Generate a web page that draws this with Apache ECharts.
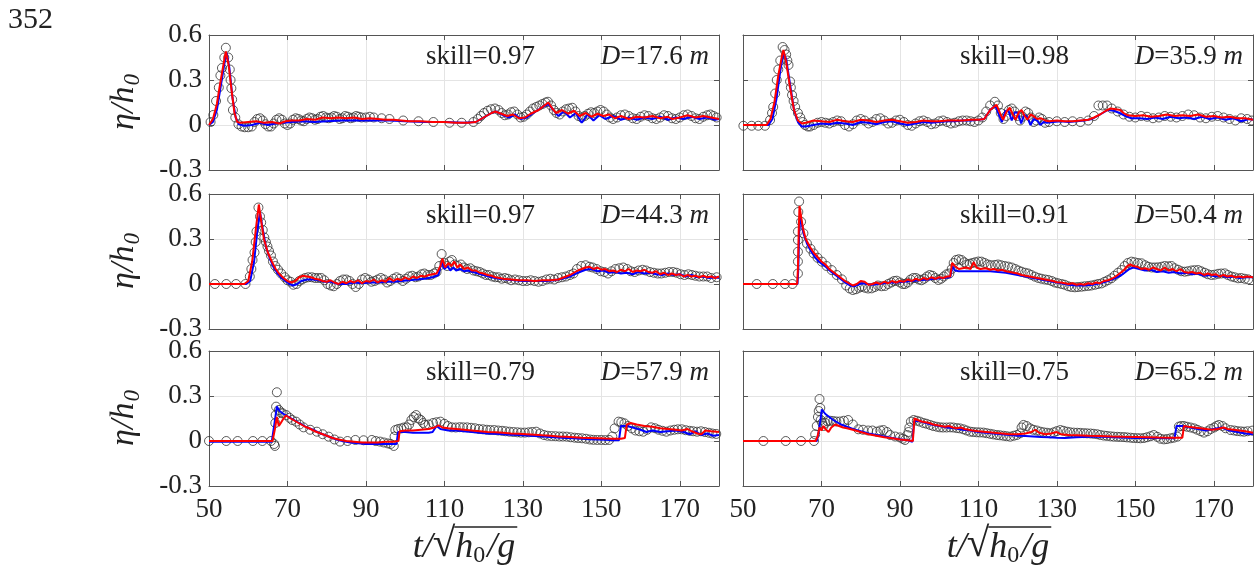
<!DOCTYPE html>
<html>
<head>
<meta charset="utf-8">
<script src="https://cdn.jsdelivr.net/npm/echarts@6/dist/echarts.min.js"></script>
<style>
html,body{margin:0;padding:0;background:#fff;}
#c{width:1254px;height:571px;}
</style>
</head>
<body>
<div id="c"></div>
<script>
// ---------------- DATA ----------------
const xTicks = [50, 70, 90, 110, 130, 150, 170];
const yTicks = [-0.3, 0, 0.3, 0.6];
const skills = ['0.97', '0.98', '0.97', '0.91', '0.79', '0.75'];
const depths = ['17.6', '35.9', '44.3', '50.4', '57.9', '65.2'];
const figNumber = '352';

// Panel 1: D=17.6 m
const obs1 = [[50.4,0.02],[51.1,0.067],[51.8,0.16],[52.5,0.25],[52.9,0.33],[53.3,0.38],[53.9,0.45],[54.3,0.515],[54.9,0.45],[55.3,0.37],[55.5,0.3],[55.7,0.245],[55.9,0.17],[56.1,0.1],[56.7,0.05],[57.5,0.005],[58.3,-0.01],[59.1,-0.015],[60,-0.015],[60.9,-0.01],[61.6,0.02],[62.3,0.04],[63,0.045],[63.7,0.03],[64.4,0.005],[65.1,-0.01],[65.8,-0.01],[66.5,0.01],[67.2,0.035],[67.9,0.045],[68.6,0.035],[69.3,0.01],[70,0.0],[70.7,0.01],[71.4,0.035],[72.1,0.045],[72.8,0.04],[73.5,0.03],[74.2,0.025],[74.9,0.04],[75.6,0.05],[76.3,0.045],[77,0.035],[77.7,0.04],[78.4,0.055],[79.1,0.06],[79.8,0.05],[80.5,0.045],[81.2,0.05],[81.9,0.06],[82.6,0.055],[83.3,0.04],[84,0.045],[84.7,0.06],[85.4,0.055],[86.1,0.045],[86.8,0.05],[87.5,0.06],[88.2,0.055],[88.9,0.05],[90,0.05],[91,0.055],[92,0.05],[94,0.045],[96,0.04],[99.5,0.03],[103.4,0.025],[107.2,0.02],[111.3,0.015],[114.4,0.015],[117.4,0.02],[118.5,0.04],[119.3,0.06],[120.1,0.08],[121,0.095],[121.9,0.105],[122.9,0.11],[123.8,0.1],[124.6,0.08],[125.4,0.065],[126.2,0.07],[127,0.085],[127.8,0.09],[128.6,0.07],[129.4,0.05],[130.2,0.055],[131,0.07],[131.8,0.09],[132.6,0.11],[133.4,0.12],[134.2,0.13],[135,0.14],[135.8,0.15],[136.4,0.155],[137.2,0.13],[137.9,0.1],[138.6,0.08],[139.4,0.07],[140.2,0.09],[141,0.105],[141.8,0.11],[142.6,0.115],[143.4,0.09],[144.2,0.06],[145,0.05],[145.8,0.06],[146.6,0.075],[147.4,0.085],[148.2,0.08],[149,0.09],[149.8,0.1],[150.6,0.09],[151.4,0.07],[152.2,0.05],[153,0.04],[154,0.05],[155,0.065],[156,0.07],[157,0.06],[158,0.045],[159,0.04],[160,0.055],[161,0.065],[162,0.06],[163,0.045],[164,0.04],[165,0.05],[166,0.065],[167,0.06],[168,0.045],[169,0.04],[170,0.05],[171,0.065],[172,0.07],[173,0.06],[174,0.045],[175,0.04],[176,0.055],[177,0.065],[177.8,0.07],[178.6,0.06],[179.4,0.05]];
const blue1 = [[50,0.0],[51,0.02],[52,0.1],[53,0.26],[54,0.42],[54.5,0.48],[55.2,0.38],[56,0.18],[56.8,0.05],[57.6,0.005],[59,-0.005],[61,0.0],[63,0.015],[65,0.0],[67,0.01],[69,0.015],[71,0.02],[74,0.025],[77,0.02],[80,0.025],[84,0.03],[88,0.03],[92,0.03],[96,0.03],[100,0.025],[105,0.02],[110,0.02],[115,0.015],[118,0.02],[120,0.05],[122,0.08],[123.2,0.09],[125,0.065],[126.5,0.05],[128,0.07],[129.5,0.04],[131,0.05],[133,0.085],[135,0.12],[136.5,0.14],[137.8,0.1],[139,0.06],[140.5,0.09],[142,0.05],[143.5,0.08],[145,0.015],[146.5,0.07],[148,0.03],[149.5,0.065],[151,0.04],[153,0.06],[155,0.035],[157,0.05],[159,0.035],[161,0.05],[163,0.04],[165,0.055],[167,0.035],[169,0.05],[171,0.04],[173,0.055],[175,0.04],[177,0.05],[179,0.035],[180,0.04]];
const red1 = [[50,0.0],[51,0.04],[52,0.14],[53,0.3],[54,0.45],[54.3,0.49],[55,0.4],[55.8,0.22],[56.5,0.08],[57.2,0.02],[58,0.015],[60,0.02],[62,0.025],[64,0.015],[66,0.02],[68,0.01],[69.5,0.025],[71,0.03],[73,0.03],[75,0.04],[77,0.035],[79,0.05],[81,0.045],[83,0.05],[85,0.045],[87,0.05],[89,0.04],[91,0.045],[93,0.04],[95,0.035],[97,0.035],[99,0.03],[101,0.025],[104,0.025],[107,0.02],[110,0.02],[113,0.015],[116,0.015],[118,0.02],[120,0.05],[122,0.08],[123,0.09],[124.5,0.075],[126,0.06],[127.5,0.07],[129,0.045],[130.5,0.05],[132,0.075],[134,0.1],[135.5,0.13],[136.5,0.15],[137.5,0.11],[138.5,0.08],[140,0.1],[141.5,0.075],[143,0.095],[144.5,0.06],[146,0.08],[147.5,0.055],[149,0.075],[150.5,0.06],[152,0.07],[153.5,0.045],[155,0.06],[157,0.04],[159,0.055],[161,0.05],[163,0.06],[165,0.045],[167,0.055],[168,0.04],[170,0.05],[172,0.065],[174,0.05],[176,0.06],[178,0.05],[180,0.04]];

// Panel 2: D=35.9 m
const obs2 = [[50.1,-0.005],[52.2,-0.005],[53.9,-0.005],[55.6,-0.005],[56.9,0.033],[57.4,0.08],[57.7,0.12],[58.2,0.21],[58.6,0.3],[59,0.37],[59.5,0.43],[60.1,0.52],[60.6,0.5],[61,0.47],[61.3,0.43],[61.6,0.4],[62,0.29],[62.2,0.25],[62.5,0.2],[62.9,0.16],[63.3,0.12],[64,0.08],[64.6,0.05],[65.2,0.02],[65.8,0.0],[66.5,-0.01],[67.1,-0.01],[68,0.0],[69,0.015],[70,0.02],[71,0.015],[72,0.01],[73,0.02],[74,0.03],[75,0.025],[76,0.0],[77,-0.01],[78,0.005],[79,0.03],[80,0.04],[81,0.03],[82,0.01],[83,0.02],[84,0.04],[85,0.045],[86,0.03],[87,0.01],[88,0.015],[89,0.03],[90,0.035],[91,0.02],[92,0.0],[93,-0.005],[94,0.01],[95,0.025],[96,0.03],[97,0.02],[98,0.005],[99,0.01],[100,0.025],[101,0.03],[102,0.02],[103,0.01],[104,0.015],[105,0.025],[106,0.03],[107,0.03],[108,0.025],[109,0.02],[110,0.03],[111,0.05],[112,0.09],[113,0.13],[114.2,0.155],[115,0.13],[115.7,0.08],[116.4,0.04],[117.1,0.06],[117.8,0.1],[118.5,0.11],[119.2,0.09],[119.9,0.06],[120.6,0.03],[121.3,0.055],[122,0.09],[122.7,0.08],[123.4,0.05],[124.1,0.02],[124.8,0.03],[125.5,0.05],[126.2,0.04],[127,0.015],[128,0.02],[130,0.025],[132,0.02],[134,0.025],[136,0.02],[138,0.03],[139.5,0.06],[140.6,0.13],[141.7,0.13],[142.8,0.13],[144,0.11],[145.5,0.09],[147,0.07],[148.5,0.055],[150,0.05],[151.5,0.06],[153,0.055],[154.5,0.045],[156,0.05],[157.5,0.06],[159,0.055],[160.5,0.05],[162,0.06],[163.5,0.07],[165,0.065],[166.5,0.05],[168,0.045],[169.5,0.055],[171,0.06],[172.5,0.05],[174,0.04],[175.5,0.03],[177,0.045],[178.5,0.04],[179.7,0.03]];
const blue2 = [[50,0],[56.5,0.0],[57.5,0.04],[58.5,0.17],[59.5,0.36],[60.3,0.48],[61,0.44],[62,0.27],[63,0.1],[64,0.02],[65,-0.01],[66,-0.01],[68,0.0],[70,0.01],[72,0.005],[74,0.015],[76,0.01],[78,0.0],[80,0.02],[82,0.015],[84,0.005],[86,0.02],[88,0.025],[90,0.01],[92,0.0],[94,0.01],[96,0.02],[98,0.015],[100,0.02],[102,0.025],[104,0.025],[106,0.03],[108,0.03],[110,0.035],[111.5,0.04],[113,0.1],[114.3,0.13],[115.2,0.07],[116,0.02],[116.8,0.09],[117.6,0.1],[118.5,0.03],[119.3,0.085],[120.1,0.08],[120.9,0.01],[121.7,0.07],[122.5,0.05],[123.3,0.0],[124.1,0.04],[125,0.03],[125.8,0.0],[126.6,0.02],[127.5,0.015],[129,0.02],[131,0.025],[133,0.02],[135,0.025],[137,0.03],[139,0.04],[141,0.07],[143,0.1],[144.5,0.095],[146,0.08],[147.5,0.06],[149,0.045],[151,0.045],[153,0.04],[155,0.05],[157,0.04],[159,0.055],[161,0.045],[163,0.05],[165,0.04],[167,0.055],[169,0.04],[171,0.05],[173,0.035],[175,0.045],[177,0.025],[179,0.04],[180,0.035]];
const red2 = [[50,0],[56,0.0],[57,0.04],[58,0.15],[59,0.33],[60,0.47],[60.3,0.5],[61,0.42],[62,0.25],[63,0.1],[64,0.03],[65,0.01],[66,0.015],[68,0.03],[70,0.025],[72,0.02],[74,0.035],[76,0.025],[78,0.02],[80,0.035],[82,0.03],[84,0.02],[86,0.03],[88,0.035],[90,0.025],[92,0.015],[94,0.02],[96,0.03],[98,0.025],[100,0.025],[102,0.03],[104,0.03],[106,0.03],[108,0.035],[110,0.035],[111.5,0.04],[113,0.1],[114.6,0.135],[115.5,0.08],[116.3,0.035],[117.2,0.09],[118,0.115],[118.8,0.07],[119.5,0.035],[120.3,0.085],[121,0.1],[121.8,0.06],[122.5,0.035],[123.3,0.07],[124,0.06],[125,0.04],[126,0.045],[127,0.03],[128,0.025],[130,0.03],[132,0.025],[134,0.025],[136,0.03],[138,0.035],[139.5,0.05],[141,0.07],[142.5,0.095],[143.7,0.11],[145,0.105],[146.2,0.1],[147,0.08],[148,0.065],[150,0.06],[152,0.065],[154,0.055],[156,0.06],[158,0.07],[160,0.06],[162,0.065],[164,0.06],[166,0.07],[168,0.055],[170,0.06],[172,0.05],[174,0.055],[176,0.045],[178,0.045],[180,0.035]];

// Panel 3: D=44.3 m
const obs3 = [[51.5,0],[54.4,0],[56.9,0],[59.3,0],[60.4,0.05],[60.8,0.1],[61.1,0.16],[61.6,0.21],[61.9,0.28],[62.1,0.35],[62.6,0.51],[63,0.45],[63.3,0.41],[63.7,0.36],[64.1,0.31],[64.5,0.28],[64.9,0.25],[65.3,0.22],[65.8,0.19],[66.3,0.15],[66.9,0.12],[67.6,0.095],[68.4,0.07],[69.3,0.045],[70,0.025],[70.8,0.015],[71.5,-0.005],[72.3,0.0],[73,0.02],[73.7,0.03],[74.5,0.04],[75.3,0.045],[76.2,0.045],[77,0.04],[77.8,0.04],[78.6,0.04],[79.4,0.025],[80.2,0.0],[81,-0.01],[81.8,-0.015],[82.6,0.0],[83.4,0.02],[84.2,0.03],[85,0.03],[85.8,0.02],[86.6,0.0],[87.4,-0.02],[88.2,0.0],[89,0.03],[89.8,0.04],[90.6,0.03],[91.4,0.015],[92.2,0.02],[93,0.03],[93.8,0.04],[94.6,0.03],[95.4,0.01],[96.2,0.02],[97,0.035],[97.8,0.045],[98.6,0.035],[99.4,0.02],[100.2,0.035],[101,0.05],[101.8,0.055],[102.6,0.045],[103.4,0.05],[104.2,0.065],[104.9,0.07],[105.7,0.06],[106.5,0.06],[107.3,0.07],[108,0.08],[108.7,0.12],[109.3,0.2],[110,0.14],[110.7,0.12],[111.3,0.15],[111.9,0.16],[112.6,0.13],[113.4,0.12],[114.2,0.13],[115,0.11],[115.8,0.1],[116.6,0.105],[117.4,0.09],[118.2,0.085],[119,0.08],[119.8,0.07],[120.6,0.06],[121.4,0.06],[122.2,0.05],[123,0.045],[123.8,0.045],[124.6,0.035],[125.4,0.04],[126.2,0.035],[127,0.025],[128,0.03],[129,0.025],[130,0.02],[131,0.02],[132,0.025],[133,0.02],[134,0.015],[135,0.02],[136,0.03],[137,0.035],[138,0.03],[139,0.04],[140,0.045],[141,0.05],[142,0.06],[142.9,0.07],[143.8,0.1],[144.9,0.12],[146,0.125],[147,0.115],[147.8,0.11],[148.8,0.1],[149.8,0.085],[150.8,0.08],[151.7,0.07],[152.6,0.085],[153.6,0.1],[154.6,0.105],[155.6,0.11],[156.6,0.1],[157.5,0.085],[158.5,0.08],[159.5,0.09],[160.5,0.095],[161.4,0.09],[162.4,0.08],[163.4,0.075],[164.4,0.07],[165.3,0.07],[166.3,0.075],[167.3,0.08],[168.3,0.08],[169.2,0.075],[170.2,0.065],[171.2,0.06],[172.2,0.065],[173.1,0.06],[174,0.055],[175,0.05],[176,0.05],[177,0.05],[178,0.04],[179.4,0.045]];
const blue3 = [[50,0],[59.5,0],[60.5,0.02],[61.5,0.15],[62.3,0.35],[63,0.48],[63.6,0.38],[64.5,0.25],[65.5,0.17],[66.5,0.11],[67.5,0.07],[68.5,0.04],[69.5,0.02],[70.5,0.0],[71.5,-0.01],[72.5,0.0],[73.5,0.02],[75,0.03],[76.5,0.03],[78,0.025],[79.5,0.015],[81,0.015],[83,0.0],[85,0.0],[87,0.01],[89,0.005],[91,0.01],[93,0.01],[95,0.015],[97,0.015],[99,0.02],[101,0.025],[103,0.03],[105,0.035],[107,0.045],[108.5,0.06],[109.3,0.15],[110,0.1],[110.8,0.12],[111.5,0.09],[112.3,0.11],[113,0.09],[114,0.1],[115,0.085],[116,0.09],[118,0.075],[120,0.06],[122,0.045],[124,0.035],[126,0.03],[128,0.025],[130,0.02],[132,0.02],[134,0.02],[136,0.02],[138,0.025],[140,0.035],[142,0.05],[144,0.075],[146,0.095],[147.5,0.1],[149,0.085],[150.5,0.09],[152,0.075],[153.5,0.08],[155,0.07],[156.5,0.075],[158,0.065],[159.5,0.08],[161,0.07],[162.5,0.075],[164,0.065],[165.5,0.06],[167,0.07],[168.5,0.06],[170,0.065],[171.5,0.05],[173,0.06],[174.5,0.045],[176,0.05],[177.5,0.04],[179,0.045],[180,0.04]];
const red3 = [[50,0],[59,0],[60,0.02],[61,0.15],[62,0.38],[62.7,0.53],[63.3,0.42],[64,0.3],[65,0.21],[66,0.15],[67,0.1],[68,0.065],[69,0.04],[70,0.02],[71,0.01],[72,0.02],[73,0.045],[74,0.055],[75,0.05],[76,0.045],[77,0.035],[78,0.03],[79,0.02],[80,0.015],[81,0.025],[82,0.01],[83,0.0],[84,0.015],[85,0.005],[86,0.02],[87,0.01],[88,0.025],[89,0.005],[90,0.02],[91,0.015],[92,0.03],[93,0.01],[94,0.025],[95,0.015],[96,0.04],[97,0.02],[98,0.035],[99,0.025],[100,0.045],[101,0.03],[102,0.05],[103,0.04],[104,0.055],[105,0.05],[106,0.06],[107,0.065],[108,0.07],[109,0.12],[109.5,0.17],[110.2,0.11],[111,0.14],[111.8,0.12],[112.5,0.15],[113.3,0.11],[114,0.13],[115,0.1],[116,0.11],[117,0.09],[118,0.09],[119,0.075],[120,0.07],[121,0.06],[122,0.055],[123,0.045],[124,0.04],[125,0.035],[127,0.03],[129,0.025],[131,0.025],[133,0.02],[135,0.025],[137,0.025],[139,0.03],[140,0.04],[141,0.05],[142,0.06],[143,0.075],[144,0.09],[145,0.1],[146,0.11],[147,0.115],[148,0.1],[149,0.11],[150,0.095],[151,0.1],[152,0.085],[153,0.09],[154,0.08],[155,0.095],[156,0.085],[157,0.1],[158,0.08],[159,0.09],[160,0.085],[161,0.095],[162,0.08],[163,0.075],[164,0.085],[165,0.065],[166,0.075],[167,0.06],[168,0.07],[169,0.06],[170,0.065],[171,0.05],[172,0.06],[173,0.05],[174,0.055],[175,0.045],[176,0.055],[177,0.045],[178,0.05],[179,0.04],[180,0.05]];

// Panel 4: D=50.4 m
const obs4 = [[53.5,0],[57.6,0],[60.7,0],[62.6,0],[64,0.07],[64,0.15],[64,0.215],[64,0.293],[64,0.35],[64.1,0.48],[64.3,0.55],[64.8,0.415],[65.4,0.338],[66.3,0.27],[67.2,0.235],[68,0.204],[69,0.175],[70.1,0.149],[71.3,0.12],[72.6,0.093],[73.9,0.06],[75.2,0.031],[76.3,-0.01],[77.2,-0.03],[78,-0.04],[78.8,-0.035],[79.6,-0.025],[80.3,-0.018],[81.1,-0.025],[81.9,-0.03],[82.8,-0.029],[83.6,-0.02],[84.4,-0.01],[85.3,-0.015],[86.2,-0.013],[87,0.0],[87.8,0.01],[88.5,0.02],[89.2,0.022],[90,0.01],[90.7,0.0],[91.3,0.0],[92,0.01],[92.7,0.03],[93.4,0.04],[94.1,0.04],[94.8,0.03],[95.5,0.025],[96.2,0.035],[96.9,0.05],[97.6,0.06],[98.3,0.055],[99,0.04],[99.8,0.027],[100.5,0.035],[101.2,0.05],[101.9,0.065],[102.6,0.07],[103.2,0.1],[103.7,0.14],[104.3,0.16],[105,0.165],[105.7,0.16],[106.4,0.145],[107.1,0.13],[107.8,0.135],[108.5,0.14],[109.2,0.145],[110,0.15],[110.8,0.149],[111.6,0.14],[112.4,0.13],[113.2,0.125],[114.2,0.127],[115,0.13],[115.8,0.125],[116.7,0.12],[117.6,0.116],[118.5,0.11],[119.4,0.1],[120.2,0.09],[121,0.082],[121.9,0.075],[122.7,0.07],[123.5,0.06],[124.4,0.049],[125.3,0.04],[126.1,0.035],[127,0.03],[127.8,0.027],[128.7,0.02],[129.5,0.01],[130.3,0.005],[131.2,0.0],[132,-0.005],[132.9,-0.015],[133.7,-0.02],[134.6,-0.022],[135.4,-0.02],[136.3,-0.018],[137.1,-0.015],[138,-0.013],[138.8,-0.01],[139.7,-0.005],[140.5,0.0],[141.4,0.004],[142.2,0.015],[143,0.025],[143.9,0.038],[144.7,0.055],[145.6,0.075],[146.5,0.093],[147.3,0.12],[148.1,0.14],[149,0.149],[149.8,0.145],[150.7,0.14],[151.6,0.138],[152.5,0.125],[153.3,0.115],[154.2,0.11],[155,0.11],[155.8,0.111],[156.7,0.115],[157.5,0.12],[158.4,0.118],[159.2,0.12],[160,0.105],[160.9,0.095],[161.7,0.085],[162.6,0.082],[163.4,0.085],[164.3,0.09],[165.1,0.092],[166,0.093],[166.8,0.085],[167.7,0.075],[168.5,0.065],[169.4,0.06],[170.2,0.062],[171.1,0.068],[171.9,0.07],[172.8,0.071],[173.6,0.06],[174.5,0.05],[175.3,0.045],[176.2,0.038],[177,0.04],[177.9,0.035],[178.8,0.031]];
const blue4 = [[50,0],[63.9,0],[64.1,0.1],[64.3,0.33],[64.6,0.45],[65,0.4],[65.5,0.33],[66.3,0.27],[67.3,0.22],[68.3,0.18],[69.3,0.15],[70.3,0.13],[71.3,0.11],[72.3,0.085],[73.3,0.065],[74.3,0.045],[75.3,0.025],[76.3,0.005],[77.3,-0.01],[78.3,-0.015],[79.3,-0.005],[80.3,0.005],[81.5,0.0],[83,-0.005],[84.5,0.0],[86,0.005],[87.5,0.01],[89,0.01],[91,0.015],[93,0.02],[95,0.025],[97,0.03],[99,0.035],[101,0.04],[102.8,0.045],[103.4,0.12],[104,0.09],[105,0.085],[107,0.085],[109,0.085],[111,0.085],[113,0.085],[115,0.08],[117,0.075],[119,0.065],[121,0.055],[123,0.045],[125,0.035],[127,0.025],[129,0.015],[131,0.005],[133,-0.005],[135,-0.01],[137,-0.01],[139,-0.005],[141,0.005],[143,0.02],[145,0.04],[146.5,0.06],[147.5,0.08],[148.5,0.1],[149.5,0.11],[151,0.1],[152.5,0.09],[154,0.095],[155.5,0.08],[157,0.085],[158.5,0.075],[160,0.08],[161.5,0.07],[163,0.075],[164.5,0.065],[166,0.07],[167.5,0.055],[169,0.06],[170.5,0.05],[172,0.055],[173.5,0.045],[175,0.05],[176.5,0.04],[178,0.045],[180,0.045]];
const red4 = [[50,0],[63.8,0],[64,0.1],[64.2,0.35],[64.4,0.52],[64.8,0.45],[65.3,0.37],[66,0.3],[67,0.25],[68,0.21],[69,0.18],[70,0.15],[71,0.13],[72,0.1],[73,0.08],[74,0.06],[75,0.04],[76,0.02],[77,0.005],[78,-0.01],[79,0.0],[80,0.02],[81,0.015],[82,-0.005],[83,0.0],[84,0.01],[85,0.0],[86,0.015],[87,0.005],[88,0.02],[89,0.01],[90,0.02],[91,0.015],[92,0.03],[93,0.02],[94,0.035],[95,0.025],[96,0.04],[97,0.03],[98,0.045],[99,0.035],[100,0.045],[101,0.04],[102,0.05],[102.8,0.05],[103.3,0.14],[104,0.12],[105,0.1],[106,0.105],[107,0.11],[108,0.1],[108.8,0.145],[109.5,0.11],[110.5,0.1],[112,0.105],[113,0.095],[114,0.1],[115,0.09],[116,0.095],[117,0.085],[118,0.08],[119,0.075],[120,0.07],[121,0.06],[122,0.055],[123,0.05],[124,0.045],[125,0.04],[126,0.035],[127,0.03],[128,0.025],[129,0.02],[130,0.012],[131,0.01],[132,0.005],[133,0.0],[134,0.005],[135,-0.005],[136,0.0],[137,-0.005],[138,0.005],[139,0.0],[140,0.01],[141,0.005],[142,0.02],[143,0.025],[144,0.035],[145,0.05],[146,0.07],[147,0.09],[148,0.12],[148.7,0.13],[149.5,0.12],[150.5,0.115],[151.5,0.1],[152.5,0.105],[153.5,0.095],[154.5,0.11],[155.5,0.1],[156.5,0.09],[157.5,0.11],[158.5,0.09],[159.5,0.1],[160.5,0.085],[161.5,0.1],[162.5,0.08],[163.5,0.075],[164.5,0.08],[165.5,0.07],[166.5,0.075],[167.5,0.06],[168.5,0.07],[169.5,0.06],[170.5,0.065],[171.5,0.05],[172.5,0.06],[173.5,0.05],[174.5,0.055],[175.5,0.045],[176.5,0.05],[177.5,0.045],[178.5,0.05],[180,0.045]];

// Panel 5: D=57.9 m
const obs5 = [[50,0],[54.4,0],[57.3,0],[61.2,0],[63.6,0],[65.8,0],[66.6,-0.02],[66.8,-0.033],[66.9,0.12],[67,0.173],[67.1,0.229],[67.3,0.325],[67.8,0.207],[68.3,0.19],[68.8,0.184],[69.7,0.173],[70.5,0.155],[71.2,0.14],[72.2,0.129],[73.1,0.11],[74.1,0.091],[75.8,0.075],[77.5,0.062],[79,0.045],[80.5,0.029],[82,0.01],[83.4,-0.004],[85.3,0.0],[87.3,0.007],[89.4,0.005],[91.5,0.007],[92.5,0.0],[93.6,-0.004],[94.6,-0.01],[95.6,-0.016],[96.3,-0.02],[97.1,-0.033],[97.3,0.03],[97.5,0.073],[98.2,0.08],[99,0.084],[99.7,0.09],[100.4,0.091],[101,0.11],[101.6,0.14],[102.2,0.16],[102.8,0.173],[103.4,0.15],[104,0.14],[104.6,0.12],[105.1,0.107],[106,0.11],[107.1,0.12],[108,0.125],[109,0.129],[110,0.115],[110.9,0.1],[111.9,0.091],[112.9,0.09],[113.9,0.092],[114.8,0.091],[115.8,0.091],[116.8,0.088],[117.8,0.085],[118.8,0.08],[119.8,0.078],[120.8,0.075],[121.7,0.073],[122.7,0.073],[123.7,0.07],[124.7,0.068],[125.6,0.065],[126.6,0.062],[127.6,0.06],[128.6,0.058],[129.5,0.056],[130.5,0.056],[131.5,0.058],[132.4,0.06],[133.4,0.062],[134.4,0.05],[135.4,0.04],[136.3,0.035],[137.3,0.033],[138.3,0.032],[139.3,0.03],[140.2,0.03],[141.2,0.029],[142.2,0.025],[143.2,0.022],[144.1,0.02],[145.1,0.018],[146.1,0.015],[147.1,0.01],[148,0.008],[149,0.007],[150,0.007],[151,0.006],[152,0.007],[152.8,0.03],[153.4,0.084],[154.4,0.129],[155.1,0.125],[155.9,0.118],[156.8,0.1],[157.8,0.084],[158.7,0.07],[159.7,0.065],[160.7,0.062],[161.7,0.075],[162.7,0.091],[163.7,0.085],[164.6,0.075],[165.6,0.068],[166.6,0.062],[167.6,0.07],[168.6,0.075],[169.5,0.078],[170.5,0.078],[171.5,0.072],[172.5,0.068],[173.4,0.065],[174.4,0.062],[175.4,0.065],[176.4,0.06],[177.4,0.055],[178.3,0.05],[179.3,0.047]];
const blue5 = [[50,-0.005],[66,-0.005],[66.6,0.1],[67.3,0.23],[68,0.2],[69,0.18],[70,0.165],[71,0.15],[72,0.135],[73,0.12],[74,0.105],[75,0.09],[76.5,0.075],[78,0.055],[79.5,0.04],[81,0.025],[82.5,0.01],[84,0.0],[86,-0.01],[88,-0.015],[90,-0.02],[92,-0.02],[94,-0.02],[96,-0.02],[97.8,-0.02],[98.2,0.06],[100,0.06],[102,0.055],[104,0.055],[106,0.055],[107,0.06],[108,0.1],[109,0.08],[111,0.07],[113,0.07],[115,0.065],[117,0.06],[119,0.055],[121,0.05],[123,0.048],[125,0.045],[127,0.042],[129,0.04],[131,0.037],[133,0.034],[135,0.03],[137,0.027],[139,0.024],[141,0.02],[143,0.018],[145,0.015],[147,0.012],[149,0.01],[151,0.008],[153,0.005],[154.5,0.005],[155,0.1],[156.5,0.1],[158,0.09],[160,0.075],[161.5,0.06],[163,0.07],[165,0.06],[167,0.065],[169,0.07],[171,0.06],[172.5,0.045],[174,0.065],[175.5,0.04],[177,0.05],[178.5,0.035],[180,0.04]];
const red5 = [[50,0],[66.2,0],[66.8,0.08],[67.3,0.16],[67.8,0.1],[68.3,0.12],[69,0.15],[69.6,0.17],[70.5,0.155],[71.5,0.14],[72.5,0.125],[73.5,0.11],[74.5,0.095],[75.5,0.085],[77,0.065],[78.5,0.05],[80,0.035],[81.5,0.02],[83,0.01],[85,0.0],[87,-0.005],[89,-0.01],[91,-0.01],[93,-0.01],[95,-0.005],[97,-0.005],[98.3,0.0],[98.6,0.065],[100,0.07],[102,0.07],[104,0.075],[106,0.08],[107.5,0.09],[108.5,0.105],[109.5,0.09],[111,0.085],[113,0.08],[115,0.075],[117,0.07],[119,0.065],[121,0.06],[123,0.058],[125,0.055],[127,0.05],[129,0.048],[131,0.045],[133,0.042],[135,0.038],[137,0.035],[139,0.03],[141,0.028],[143,0.025],[145,0.022],[147,0.02],[149,0.018],[151,0.016],[153,0.015],[155,0.015],[156,0.02],[156.5,0.11],[157.5,0.12],[159,0.11],[161,0.1],[163,0.095],[165,0.085],[167,0.08],[169,0.075],[170.5,0.07],[172,0.08],[173,0.065],[174.5,0.05],[175.5,0.045],[176.5,0.07],[178,0.065],[180,0.06]];

// Panel 6: D=65.2 m
const obs6 = [[55.2,0],[60.9,0],[64.8,0],[68.1,0],[68.4,0.044],[68.8,0.1],[69.1,0.16],[69.3,0.2],[69.5,0.28],[69.7,0.22],[69.8,0.14],[70.2,0.12],[70.5,0.1],[71,0.12],[71.5,0.133],[72.2,0.135],[73,0.133],[73.8,0.13],[74.7,0.13],[75.7,0.135],[76.8,0.14],[78,0.11],[79.4,0.078],[80.6,0.075],[81.9,0.07],[83,0.07],[84.1,0.062],[85,0.07],[85.8,0.073],[86.7,0.06],[87.5,0.04],[88.8,0.03],[90,0.024],[90.7,0.015],[91.3,0.007],[91.9,0.04],[92.2,0.06],[92.4,0.09],[92.8,0.129],[93.5,0.14],[94.3,0.135],[95.1,0.129],[96,0.12],[96.8,0.115],[97.7,0.107],[98.5,0.1],[99.4,0.095],[100.2,0.091],[101,0.09],[101.9,0.09],[102.8,0.091],[103.6,0.09],[104.5,0.086],[105.3,0.084],[106.2,0.078],[107,0.07],[107.9,0.062],[108.7,0.06],[109.6,0.058],[110.4,0.057],[111.3,0.056],[112.1,0.052],[113,0.048],[113.8,0.044],[114.7,0.04],[115.5,0.038],[116.4,0.035],[117.2,0.032],[118.1,0.029],[119,0.035],[119.8,0.04],[120.6,0.051],[121,0.09],[121.5,0.107],[122.3,0.1],[123.2,0.084],[124,0.075],[124.9,0.07],[125.8,0.062],[126.6,0.058],[127.5,0.055],[128.3,0.051],[129.2,0.058],[130,0.066],[130.9,0.073],[131.7,0.068],[132.6,0.062],[133.4,0.058],[134.3,0.056],[135.2,0.055],[136,0.054],[136.9,0.052],[137.7,0.051],[138.6,0.05],[139.4,0.048],[140.3,0.045],[141.1,0.04],[142,0.036],[142.8,0.034],[143.7,0.031],[144.5,0.029],[145.4,0.028],[146.2,0.027],[147.1,0.026],[147.9,0.024],[148.8,0.022],[149.6,0.02],[150.5,0.019],[151.3,0.018],[152.2,0.02],[153,0.025],[153.9,0.032],[154.7,0.04],[155.6,0.028],[156.4,0.015],[157.3,0.011],[158.1,0.013],[159,0.018],[159.8,0.022],[160.7,0.029],[161.1,0.096],[161.7,0.1],[162.4,0.1],[163.2,0.095],[164.1,0.09],[165,0.084],[165.8,0.075],[166.7,0.065],[167.5,0.056],[168.4,0.065],[169.2,0.08],[170.1,0.09],[170.7,0.1],[171.3,0.107],[172.2,0.1],[173,0.085],[174.3,0.073],[175.2,0.07],[176,0.066],[176.9,0.064],[177.7,0.062],[178.6,0.065],[179.8,0.069]];
const blue6 = [[50,0],[68.8,0],[69.3,0.06],[69.8,0.15],[70.1,0.21],[71,0.18],[72,0.16],[73,0.14],[74,0.125],[75,0.11],[76.5,0.095],[78,0.08],[80,0.065],[82,0.05],[84,0.04],[86,0.03],[88,0.02],[90,0.012],[92,0.005],[93.2,-0.005],[93.6,0.13],[94.5,0.135],[96,0.125],[98,0.11],[100,0.1],[102,0.09],[104,0.085],[106,0.075],[108,0.07],[110,0.06],[112,0.055],[114,0.05],[116,0.045],[118,0.04],[120,0.035],[122,0.033],[124,0.03],[126,0.027],[128,0.025],[130,0.022],[132,0.02],[135,0.025],[140,0.03],[145,0.025],[150,0.02],[155,0.02],[160,0.018],[160.5,0.1],[162,0.1],[164,0.09],[166,0.08],[168,0.07],[170,0.08],[172,0.09],[174,0.07],[176,0.06],[178,0.05],[180,0.045]];
const red6 = [[50,0],[68.5,0],[69,0.03],[69.5,0.09],[70,0.07],[70.5,0.1],[71,0.08],[71.8,0.06],[72.5,0.09],[73.5,0.11],[74.5,0.1],[75.5,0.09],[76.5,0.085],[78,0.075],[80,0.06],[82,0.045],[84,0.035],[86,0.025],[88,0.018],[90,0.01],[92,0.005],[93.3,0.0],[93.7,0.15],[94.5,0.14],[95.5,0.13],[96.5,0.125],[97.5,0.12],[98.5,0.11],[99.5,0.105],[100.5,0.1],[101.5,0.095],[102.5,0.1],[103.5,0.09],[104.5,0.085],[105.5,0.09],[106.5,0.08],[107.5,0.075],[108.5,0.07],[110,0.065],[112,0.06],[114,0.055],[116,0.05],[118,0.045],[120,0.045],[122,0.05],[123.5,0.06],[124.5,0.075],[125.5,0.055],[127,0.045],[128.5,0.05],[130,0.06],[131,0.045],[133,0.04],[135,0.038],[138,0.035],[141,0.033],[144,0.03],[147,0.028],[150,0.027],[153,0.025],[156,0.023],[159,0.022],[162,0.022],[162.4,0.1],[163.5,0.095],[165,0.09],[166.5,0.085],[168,0.08],[169.5,0.075],[171,0.08],[172.5,0.09],[173.5,0.08],[175,0.075],[176.5,0.07],[178,0.065],[180,0.055]];

const obsSets = [obs1, obs2, obs3, obs4, obs5, obs6];
const blueSets = [blue1, blue2, blue3, blue4, blue5, blue6];
const redSets = [red1, red2, red3, red4, red5, red6];

// ---------------- LAYOUT ----------------
const FAM = 'Liberation Serif';
const FONT = '"Liberation Serif", serif';
const TXT = '#222';
const AX = '#555';
const GRIDC = '#e4e4e4';
const colLeft = [209, 743];
const rowTop = [35, 194, 351];
const PW = 510, PH = 135;

const ctx = document.createElement('canvas').getContext('2d');
function tw(text, font) { ctx.font = font; return ctx.measureText(text).width; }

const grids = [], xAxes = [], yAxes = [], series = [], graphics = [];
for (let i = 0; i < 6; i++) {
  const r = Math.floor(i / 2), c = i % 2;
  grids.push({left: colLeft[c], top: rowTop[r], width: PW, height: PH, containLabel: false});
}
const tickStyle = {show: true, inside: true, length: 5, lineStyle: {color: AX, width: 1}};
for (let i = 0; i < 6; i++) {
  const r = Math.floor(i / 2);
  xAxes.push({
    gridIndex: i, type: 'value', position: 'bottom', min: xTicks[0], max: 180, interval: 20,
    axisLine: {show: true, onZero: false, lineStyle: {color: AX, width: 1}},
    axisTick: tickStyle,
    axisLabel: {show: r === 2, showMaxLabel: false, color: TXT, fontFamily: FAM, fontSize: 27, margin: 10,
      formatter: v => (xTicks.indexOf(v) >= 0 ? String(v) : '')},
    splitLine: {show: true, lineStyle: {color: GRIDC, width: 1}}
  });
}
for (let i = 0; i < 6; i++) {
  xAxes.push({
    gridIndex: i, type: 'value', position: 'top', min: xTicks[0], max: 180, interval: 20,
    axisLine: {show: true, onZero: false, lineStyle: {color: AX, width: 1}},
    axisTick: tickStyle, axisLabel: {show: false}, splitLine: {show: false}
  });
}
for (let i = 0; i < 6; i++) {
  const c = i % 2;
  yAxes.push({
    gridIndex: i, type: 'value', position: 'left', min: yTicks[0], max: yTicks[yTicks.length - 1], interval: 0.3,
    axisLine: {show: true, onZero: false, lineStyle: {color: AX, width: 1}},
    axisTick: tickStyle,
    axisLabel: {show: c === 0, color: TXT, fontFamily: FAM, fontSize: 27, margin: 7,
      formatter: v => (Math.abs(v) < 1e-9 ? '0' : v.toFixed(1))},
    splitLine: {show: true, lineStyle: {color: GRIDC, width: 1}}
  });
}
for (let i = 0; i < 6; i++) {
  yAxes.push({
    gridIndex: i, type: 'value', position: 'right', min: yTicks[0], max: yTicks[yTicks.length - 1], interval: 0.3,
    axisLine: {show: true, onZero: false, lineStyle: {color: AX, width: 1}},
    axisTick: tickStyle, axisLabel: {show: false}, splitLine: {show: false}
  });
}
for (let i = 0; i < 6; i++) {
  series.push({
    type: 'scatter', xAxisIndex: i, yAxisIndex: i, data: obsSets[i], symbol: 'circle', symbolSize: 9,
    itemStyle: {color: 'rgba(0,0,0,0)', borderColor: '#333', borderWidth: 1}, z: 2, silent: true
  });
  series.push({
    type: 'line', xAxisIndex: i, yAxisIndex: i, data: blueSets[i], showSymbol: false, symbol: 'none',
    lineStyle: {color: '#0000ff', width: 2}, z: 3, silent: true
  });
  series.push({
    type: 'line', xAxisIndex: i, yAxisIndex: i, data: redSets[i], showSymbol: false, symbol: 'none',
    lineStyle: {color: '#ff0000', width: 2}, z: 4, silent: true
  });
}

// Annotations
const annSize = 27;
for (let i = 0; i < 6; i++) {
  const r = Math.floor(i / 2), c = i % 2;
  const L = colLeft[c], T = rowTop[r];
  graphics.push({
    type: 'text', left: L + 217, top: T + 8, z: 100,
    style: {text: 'skill=' + skills[i], fill: TXT, fontFamily: FAM, fontSize: annSize}
  });
  const dTxt = '{i|D}{n|=' + depths[i] + ' }{i|m}';
  const dW = tw('D', 'italic ' + annSize + 'px ' + FONT) + tw('=' + depths[i] + ' ', annSize + 'px ' + FONT) + tw('m', 'italic ' + annSize + 'px ' + FONT);
  graphics.push({
    type: 'text', left: L + 500 - dW, top: T + 8, z: 100,
    style: {text: dTxt, fill: TXT, fontFamily: FAM, fontSize: annSize,
      rich: {i: {fontStyle: 'italic', fontSize: annSize, fontFamily: FAM, fill: TXT, color: TXT},
             n: {fontSize: annSize, fontFamily: FAM, fill: TXT, color: TXT}}}
  });
}

// Y axis names (rotated)
const ySize = 34, ySub = 23;
const yW1 = tw('η/h', 'italic ' + ySize + 'px ' + FONT), yW2 = tw('0', ySub + 'px ' + FONT);
for (let r = 0; r < 3; r++) {
  const cy = rowTop[r] + PH / 2;
  graphics.push({
    type: 'group', x: 124, y: cy, rotation: Math.PI / 2, z: 100,
    children: [
      {type: 'text', x: -(yW1 + yW2) / 2, y: 0, style: {text: 'η/h', fontFamily: FAM, fontSize: ySize, fontStyle: 'italic', fontWeight: 'normal', fill: TXT, verticalAlign: 'middle', textVerticalAlign: 'middle'}},
      {type: 'text', x: -(yW1 + yW2) / 2 + yW1 + 1, y: 9, style: {text: '0', fontFamily: FAM, fontSize: ySub, fontStyle: 'italic', fontWeight: 'normal', fill: TXT, verticalAlign: 'middle', textVerticalAlign: 'middle'}}
    ]
  });
}

// X axis names
const xSize = 36, sqSize = 41, subSize = 24;
const xF = 'italic ' + xSize + 'px ' + FONT, sqF = sqSize + 'px ' + FONT, subF = subSize + 'px ' + FONT;
const w_t = tw('t/', xF), w_sq = tw('√', sqF), w_h = tw('h', xF), w_0 = tw('0', subF), w_g = tw('/g', xF);
const xTot = w_t + w_sq + w_h + w_0 + 2 + w_g;
for (let c = 0; c < 2; c++) {
  const cx = colLeft[c] + PW / 2;
  const x0 = cx - xTot / 2;
  const by = 548;
  const xs = x0 + w_t + w_sq;
  const base = {fill: TXT, fontFamily: FAM, verticalAlign: 'middle', textVerticalAlign: 'middle'};
  graphics.push({
    type: 'group', x: 0, y: 0, z: 100,
    children: [
      {type: 'text', x: x0, y: by, style: Object.assign({text: 't/', fontSize: xSize, fontStyle: 'italic'}, base)},
      {type: 'text', x: x0 + w_t, y: by - 3, style: Object.assign({text: '√', fontSize: sqSize}, base)},
      {type: 'text', x: xs, y: by, style: Object.assign({text: 'h', fontSize: xSize, fontStyle: 'italic'}, base)},
      {type: 'text', x: xs + w_h, y: by + 8, style: Object.assign({text: '0', fontSize: subSize}, base)},
      {type: 'text', x: xs + w_h + w_0 + 2, y: by, style: Object.assign({text: '/g', fontSize: xSize, fontStyle: 'italic'}, base)},
      {type: 'line', shape: {x1: xs - 1, y1: 527, x2: x0 + xTot + 2, y2: 527}, style: {stroke: TXT, lineWidth: 1.3}}
    ]
  });
}

// Figure number
graphics.push({type: 'text', left: 8, top: 5, z: 100, style: {text: figNumber, fill: TXT, fontFamily: FAM, fontSize: 30}});

const chart = echarts.init(document.getElementById('c'), null, {renderer: 'canvas', width: 1254, height: 571});
chart.setOption({
  animation: false,
  backgroundColor: '#ffffff',
  grid: grids,
  xAxis: xAxes,
  yAxis: yAxes,
  series: series,
  graphic: graphics
});
</script>
</body>
</html>
